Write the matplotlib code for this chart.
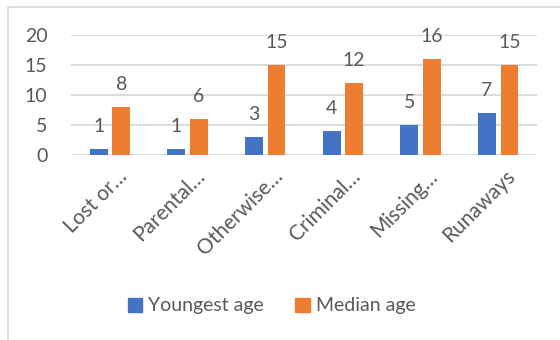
import matplotlib
matplotlib.use('Agg')
import matplotlib.pyplot as plt
import matplotlib.transforms as mtransforms
from matplotlib.patches import Rectangle, Patch
import numpy as np

plt.rcParams['font.family'] = ['Lato', 'DejaVu Sans']

categories = ['Lost or…', 'Parental…', 'Otherwise…', 'Criminal…', 'Missing…', 'Runaways']
youngest = [1, 1, 3, 4, 5, 7]
median = [8, 6, 15, 12, 16, 15]
series_names = ['Youngest age', 'Median age']
yticks = [0, 5, 10, 15, 20]

blue = '#4472C4'
orange = '#ED7D31'
text_gray = '#595959'
grid_gray = '#D9D9D9'

fig = plt.figure(figsize=(5.6, 3.4), dpi=100)
ax = fig.add_axes([0.127, 0.544, 0.832, 0.353])

# outer chart frame, runs off the right and bottom edges
fig.patches.append(Rectangle((7.5 / 560, -0.2), 1.2, (340 - 6.5) / 340 + 0.2,
                             transform=fig.transFigure, fill=False,
                             edgecolor=grid_gray, linewidth=1.2))

x = np.arange(len(categories))
w = 0.23
off = 0.145
b1 = ax.bar(x - off, youngest, w, color=blue, zorder=3)
b2 = ax.bar(x + off, median, w, color=orange, zorder=3)

for bars, vals in ((b1, youngest), (b2, median)):
    for rect, v in zip(bars, vals):
        ax.annotate(str(v), (rect.get_x() + rect.get_width() / 2, v),
                    xytext=(0, 10), textcoords='offset points',
                    ha='center', va='bottom', fontsize=14, color=text_gray)

ax.set_xlim(-0.5, len(categories) - 0.5)
ax.set_ylim(0, 20)
ax.set_yticks(yticks)
ax.yaxis.grid(True, color=grid_gray, linewidth=1.3, zorder=0)
ax.set_axisbelow(True)
for s in ax.spines.values():
    s.set_visible(False)
ax.tick_params(axis='both', length=0, colors=text_gray, labelsize=14)
ax.tick_params(axis='y', pad=17)
ax.set_xticks(x)
ax.set_xticklabels(categories, rotation=45, ha='right', rotation_mode='anchor',
                   fontsize=15, color=text_gray)
ax.tick_params(axis='x', pad=8)
shift = mtransforms.ScaledTranslation(7 / 100, 0, fig.dpi_scale_trans)
for lbl in ax.get_xticklabels():
    lbl.set_transform(lbl.get_transform() + shift)

handles = [Patch(color=blue), Patch(color=orange)]
fig.legend(handles, series_names, loc='center', bbox_to_anchor=(0.485, 0.1),
           ncol=2, frameon=False, fontsize=14, labelcolor=text_gray,
           handlelength=0.75, handleheight=0.75, handletextpad=0.3,
           columnspacing=1.6)

fig.savefig('out.png', dpi=100, facecolor='white')
